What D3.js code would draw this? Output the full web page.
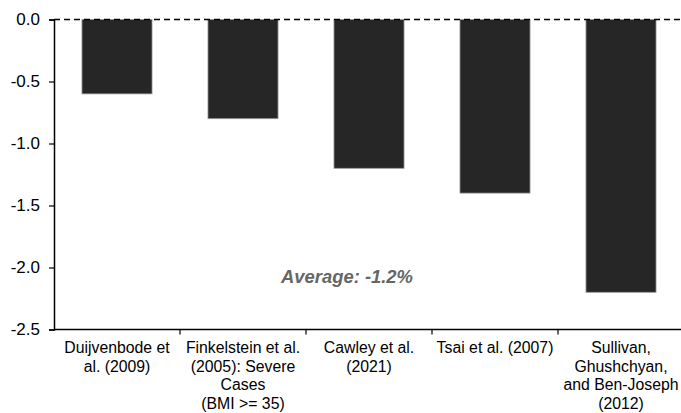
<!DOCTYPE html>
<html>
<head>
<meta charset="utf-8">
<script src="https://cdn.jsdelivr.net/npm/d3@7"></script>
<style>
  html, body { margin: 0; padding: 0; background: #fff; }
  svg { display: block; }
</style>
</head>
<body>
<script>
const categories = [
  "Duijvenbode et al. (2009)",
  "Finkelstein et al. (2005): Severe Cases (BMI >= 35)",
  "Cawley et al. (2021)",
  "Tsai et al. (2007)",
  "Sullivan, Ghushchyan, and Ben-Joseph (2012)"
];
const categoryLines = [
  ["Duijvenbode et", "al. (2009)"],
  ["Finkelstein et al.", "(2005): Severe", "Cases", "(BMI >= 35)"],
  ["Cawley et al.", "(2021)"],
  ["Tsai et al. (2007)"],
  ["Sullivan,", "Ghushchyan,", "and Ben-Joseph", "(2012)"]
];
const values = [-0.6, -0.8, -1.2, -1.4, -2.2];
const yTicks = [0, -0.5, -1.0, -1.5, -2.0, -2.5];
const averageLabel = "Average: -1.2%";
const averageValue = -2.0;

const W = 681, H = 413;
const svg = d3.select("body").append("svg").attr("width", W).attr("height", H);

const x = d3.scaleBand().domain(categories).range([54, 684]).paddingInner(0.444).paddingOuter(0.222);
const y = d3.scaleLinear().domain([-2.5, 0]).range([329.5, 19.5]);

// bars
svg.append("g").selectAll("rect").data(values).join("rect")
  .attr("x", (d, i) => x(categories[i]))
  .attr("width", x.bandwidth())
  .attr("y", y(0))
  .attr("height", d => y(d) - y(0))
  .attr("fill", "#262626")
  .attr("stroke", "#9a9a9a")
  .attr("stroke-width", 0.8);

// y axis
const fmt = d => d3.format(".1f")(d).replace("\u2212", "-");
const yAxis = svg.append("g").attr("transform", "translate(54,0)")
  .call(d3.axisLeft(y).tickValues(yTicks).tickFormat(fmt).tickSize(5).tickPadding(9));
yAxis.select(".domain").attr("stroke", "#000").attr("stroke-width", 1.5);
yAxis.selectAll(".tick line").attr("stroke", "#000").attr("stroke-width", 1.2);
yAxis.selectAll("text").attr("font-family", "Liberation Sans, Arial, sans-serif").attr("font-size", 17).attr("fill", "#000");

// x axis line at bottom
const xBottom = y(-2.5);
svg.append("line").attr("x1", 54).attr("x2", W).attr("y1", xBottom).attr("y2", xBottom)
  .attr("stroke", "#000").attr("stroke-width", 1.5);
// category boundary ticks
const step = x.step();
svg.append("g").selectAll("line").data(categories.slice(1)).join("line")
  .attr("x1", d => x(d) - (step - x.bandwidth()) / 2)
  .attr("x2", d => x(d) - (step - x.bandwidth()) / 2)
  .attr("y1", xBottom).attr("y2", xBottom + 5)
  .attr("stroke", "#000").attr("stroke-width", 1.2);

// dashed zero line
svg.append("line").attr("x1", 54).attr("x2", W).attr("y1", y(0)).attr("y2", y(0))
  .attr("stroke", "#000").attr("stroke-width", 1.3).attr("stroke-dasharray", "6,4");

// category labels
const labels = svg.append("g").selectAll("text").data(categories).join("text")
  .attr("text-anchor", "middle")
  .attr("font-family", "Liberation Sans, Arial, sans-serif")
  .attr("font-size", 15.8)
  .attr("fill", "#000");
labels.each(function(d, i) {
  const t = d3.select(this);
  categoryLines[i].forEach((ln, j) => {
    t.append("tspan").attr("x", x(d) + x.bandwidth() / 2).attr("y", 353 + j * 18.5).text(ln);
  });
});

// average annotation
svg.append("text")
  .attr("x", 347).attr("y", y(averageValue) + 15)
  .attr("text-anchor", "middle")
  .attr("font-family", "Liberation Sans, Arial, sans-serif")
  .attr("font-size", 18.4).attr("font-weight", "bold").attr("font-style", "italic")
  .attr("fill", "#666")
  .text(averageLabel);
</script>
</body>
</html>
